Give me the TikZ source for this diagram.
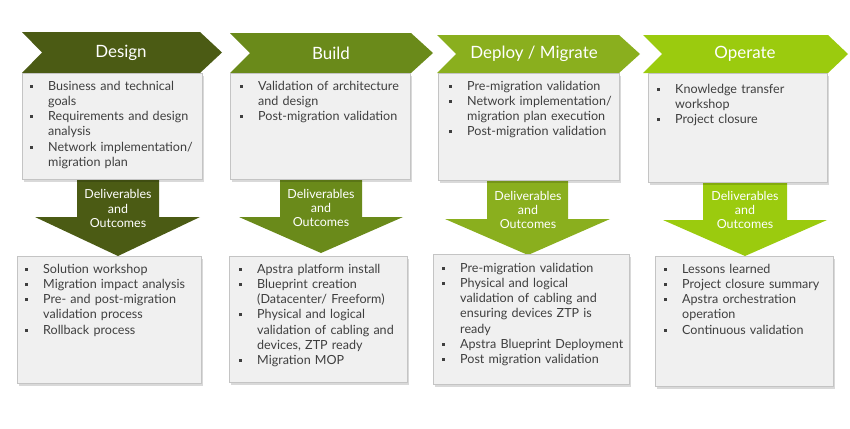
\documentclass[tikz,border=0pt]{standalone}
\usepackage{fontspec}
\setmainfont{Lato}
\usetikzlibrary{shadows}
\definecolor{cDesign}{HTML}{4B5B14}
\definecolor{cBuild}{HTML}{6A8A1A}
\definecolor{cDeploy}{HTML}{8AAF1E}
\definecolor{cOperate}{HTML}{9BCB0E}
\definecolor{boxfill}{HTML}{F0F0F0}
\definecolor{boxline}{HTML}{C4C4C4}
\definecolor{txt}{HTML}{3F3F3F}
\newcommand\bitem[1]{\noindent\hangindent=18bp\hangafter=1\makebox[18bp][l]{\raisebox{2.5bp}{\rule{3bp}{3bp}}}#1\par}
\tikzset{
  panel/.style={draw=boxline, fill=boxfill, line width=0.6bp,
    drop shadow={shadow xshift=1.5bp, shadow yshift=-3bp, fill=black, opacity=0.15}},
  btext/.style={anchor=north west, inner sep=0pt, text=txt, text width=200bp,
    font=\fontsize{12.6}{15.2}\selectfont, align=left},
  head/.style={text=white, font=\fontsize{17}{20}\selectfont, inner sep=0pt},
  deliv/.style={text=white, font=\fontsize{12.5}{14.5}\selectfont, align=center, inner sep=0pt},
}
\begin{document}
\begin{tikzpicture}[x=1bp,y=-1bp]
\useasboundingbox (0,0) rectangle (850,428);
% chevrons
\fill[cDesign]  (22,32) -- (200,32) -- (222,52.5) -- (200,73) -- (22,73) -- (42,52.5) -- cycle;
\fill[cBuild]   (230,33) -- (411,33) -- (433,53) -- (411,73) -- (230,73) -- (250,53) -- cycle;
\fill[cDeploy]  (437,35) -- (619,35) -- (640,54) -- (619,73) -- (437,73) -- (456,54) -- cycle;
\fill[cOperate] (643,35) -- (828,35) -- (848,54) -- (828,73) -- (643,73) -- (662,54) -- cycle;
\node[head] (hDesign)  at (121,52.5) {Design};
\node[head] (hBuild)   at (331,53) {Build};
\node[head] (hDeploy)  at (534,54) {Deploy / Migrate};
\node[head] (hOperate) at (745,54) {Operate};
% down arrows
\fill[cDesign]  (77,178) -- (159,178) -- (159,217) -- (200,217) -- (118,256) -- (35,217) -- (77,217) -- cycle;
\fill[cBuild]   (280,178) -- (362,178) -- (362,217) -- (403,217) -- (321,253) -- (239,217) -- (280,217) -- cycle;
\fill[cDeploy]  (487,179) -- (568,179) -- (568,219) -- (610,219) -- (528,255) -- (445,219) -- (487,219) -- cycle;
\fill[cOperate] (703,181) -- (787,181) -- (787,220) -- (827,220) -- (745,256) -- (663,220) -- (703,220) -- cycle;
\node[deliv] (dDesign)  at (118,208.5) {Deliverables\\and\\Outcomes};
\node[deliv] (dBuild)   at (321,208) {Deliverables\\and\\Outcomes};
\node[deliv] (dDeploy)  at (528,210) {Deliverables\\and\\Outcomes};
\node[deliv] (dOperate) at (745,210) {Deliverables\\and\\Outcomes};
% top panels
\draw[panel] (22,73) rectangle (202,179);
\draw[panel] (230,73) rectangle (410,179);
\draw[panel] (438,73) rectangle (619,180);
\draw[panel] (648,73) rectangle (827,182);
% bottom panels
\draw[panel] (17,256) rectangle (201,383);
\draw[panel] (229,256) rectangle (407,382);
\draw[panel] (433,254) rectangle (629,384);
\draw[panel] (655,256) rectangle (833,386);
% top texts
\node[btext] (tDesign) at (30,81) {%
\bitem{Business and technical\newline goals}
\bitem{Requirements and design\newline analysis}
\bitem{Network implementation/\newline migration plan}};
\node[btext] (tBuild) at (240,81) {%
\bitem{Validation of architecture\newline and design}
\bitem{Post-migration validation}};
\node[btext] (tDeploy) at (449,81) {%
\bitem{Pre-migration validation}
\bitem{Network implementation/\newline migration plan execution}
\bitem{Post-migration validation}};
\node[btext] (tOperate) at (657,84) {%
\bitem{Knowledge transfer\newline workshop}
\bitem{Project closure}};
% bottom texts
\node[btext] (bDesign) at (25,264) {%
\bitem{Solution workshop}
\bitem{Migration impact analysis}
\bitem{Pre- and post-migration\newline validation process}
\bitem{Rollback process}};
\node[btext] (bBuild) at (239,264) {%
\bitem{Apstra platform install}
\bitem{Blueprint creation\newline (Datacenter/ Freeform)}
\bitem{Physical and logical\newline validation of cabling and\newline devices, ZTP ready}
\bitem{Migration MOP}};
\node[btext] (bDeploy) at (442,263) {%
\bitem{Pre-migration validation}
\bitem{Physical and logical\newline validation of cabling and\newline ensuring devices ZTP is\newline ready}
\bitem{Apstra Blueprint Deployment}
\bitem{Post migration validation}};
\node[btext] (bOperate) at (664,264) {%
\bitem{Lessons learned}
\bitem{Project closure summary}
\bitem{Apstra orchestration\newline operation}
\bitem{Continuous validation}};
\end{tikzpicture}
\end{document}
